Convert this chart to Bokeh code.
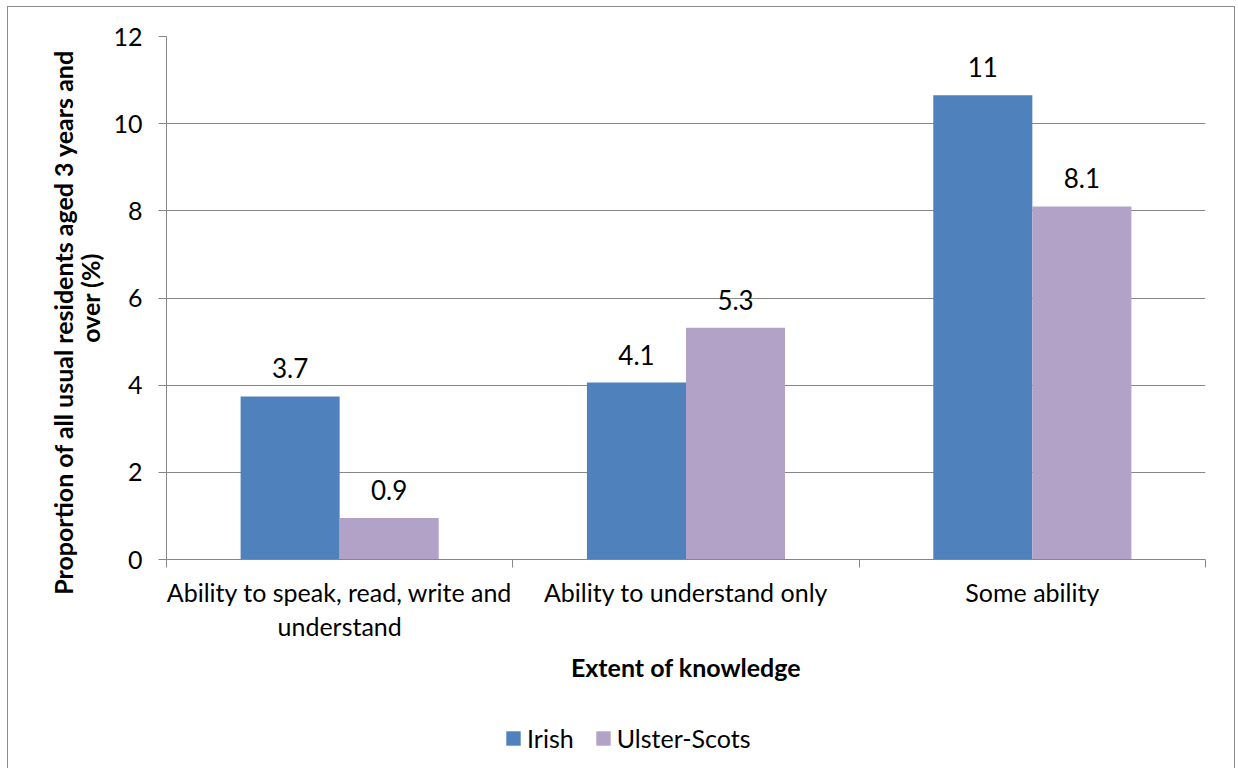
from bokeh.plotting import figure
from bokeh.layouts import column
from bokeh.models import ColumnDataSource, FixedTicker, Legend, LegendItem, Range1d
from bokeh.transform import dodge
from bokeh.core.properties import value
from bokeh.embed import file_html
from bokeh.resources import INLINE

categories = ["Ability to speak, read, write and\nunderstand", "Ability to understand only", "Some ability"]
irish = [3.74, 4.06, 10.65]
ulster = [0.95, 5.32, 8.1]
irish_labels = ["3.7", "4.1", "11"]
ulster_labels = ["0.9", "5.3", "8.1"]
series = ["Irish", "Ulster-Scots"]
y_ticks = [0, 2, 4, 6, 8, 10, 12]
x_title = "Extent of knowledge"
y_title = "Proportion of all usual residents aged 3 years and        \nover (%)"

FONT = "Lato"
FS = "25px"
GREY = "#868686"
BLUE = "#4F81BD"
PURPLE = "#B3A2C7"

centers = [i + 0.5 for i in range(len(categories))]
src = ColumnDataSource(dict(x=centers, irish=irish, ulster=ulster,
                            il=irish_labels, ul=ulster_labels))

p = figure(width=1226, height=716, output_backend="svg", toolbar_location=None,
           x_range=Range1d(0, len(categories)), y_range=Range1d(0, 12),
           min_border_left=158, min_border_right=29, min_border_top=29, min_border_bottom=164)
p.outline_line_color = None

bw = 0.286
r1 = p.vbar(x=dodge("x", -bw / 2, range=p.x_range), top="irish", width=bw, source=src,
            fill_color=BLUE, line_color=None)
r2 = p.vbar(x=dodge("x", bw / 2, range=p.x_range), top="ulster", width=bw, source=src,
            fill_color=PURPLE, line_color=None)

for col, lab, off in (("irish", "il", -bw / 2), ("ulster", "ul", bw / 2)):
    p.text(x=dodge("x", off, range=p.x_range), y=col, text=lab, source=src,
           text_align="center", text_baseline="alphabetic", y_offset=-28,
           text_font=value(FONT), text_font_size="26px", text_color="black")

# x axis
xa = p.xaxis[0]
xa.ticker = FixedTicker(ticks=centers, minor_ticks=list(range(len(categories) + 1)))
xa.major_label_overrides = {c: lab for c, lab in zip(centers, categories)}
xa.major_tick_out = 0
xa.major_tick_in = 0
xa.minor_tick_out = 8
xa.minor_tick_in = 0
xa.minor_tick_line_color = GREY
xa.axis_line_color = GREY
xa.major_label_standoff = 9
xa.major_label_text_font = FONT
xa.major_label_text_font_size = FS
xa.major_label_text_line_height = 1.15
xa.major_label_text_color = "black"
xa.axis_label = x_title
xa.axis_label_text_font = FONT
xa.axis_label_text_font_style = "bold"
xa.axis_label_text_font_size = FS
xa.axis_label_text_color = "black"
xa.axis_label_standoff = 8

# y axis
ya = p.yaxis[0]
ya.ticker = FixedTicker(ticks=y_ticks)
ya.major_tick_out = 8
ya.major_tick_in = 0
ya.major_tick_line_color = GREY
ya.minor_tick_line_color = None
ya.axis_line_color = GREY
ya.major_label_standoff = 16
ya.major_label_text_font = FONT
ya.major_label_text_font_size = FS
ya.major_label_text_color = "black"
ya.axis_label = y_title
ya.axis_label_text_font = FONT
ya.axis_label_text_font_style = "bold"
ya.axis_label_text_font_size = FS
ya.axis_label_text_line_height = 0.93
ya.axis_label_text_color = "black"
ya.axis_label_standoff = 5

p.xgrid.visible = False
p.ygrid.grid_line_color = GREY
p.ygrid.grid_line_width = 1

# legend strip
p2 = figure(width=1226, height=45, output_backend="svg", toolbar_location=None,
            x_range=Range1d(0, 1), y_range=Range1d(0, 1),
            x_axis_location=None, y_axis_location=None,
            min_border_left=0, min_border_right=0, min_border_top=0, min_border_bottom=0)
p2.outline_line_color = None
p2.xgrid.visible = False
p2.ygrid.visible = False
# legend swatches only (zero-height, nothing visible in the strip itself)
d1 = p2.vbar(x=[-5], top=[0], width=0.001, fill_color=BLUE, line_color=None)
d2 = p2.vbar(x=[-5], top=[0], width=0.001, fill_color=PURPLE, line_color=None)
legend = Legend(items=[LegendItem(label=series[0], renderers=[d1]),
                       LegendItem(label=series[1], renderers=[d2])],
                location=(338, 15), orientation="horizontal",
                glyph_width=18, glyph_height=18, label_standoff=5, spacing=20,
                padding=0, margin=0, border_line_color=None, background_fill_alpha=0,
                label_text_font=FONT, label_text_font_size=FS, label_text_color="black")
p2.add_layout(legend, "center")

layout = column(p, p2, spacing=0)
layout.margin = (6, 0, 0, 7)
layout.styles = {"border": "1px solid #8c8c8c", "border-bottom": "none"}
open("out.html", "w").write(file_html(layout, INLINE))
